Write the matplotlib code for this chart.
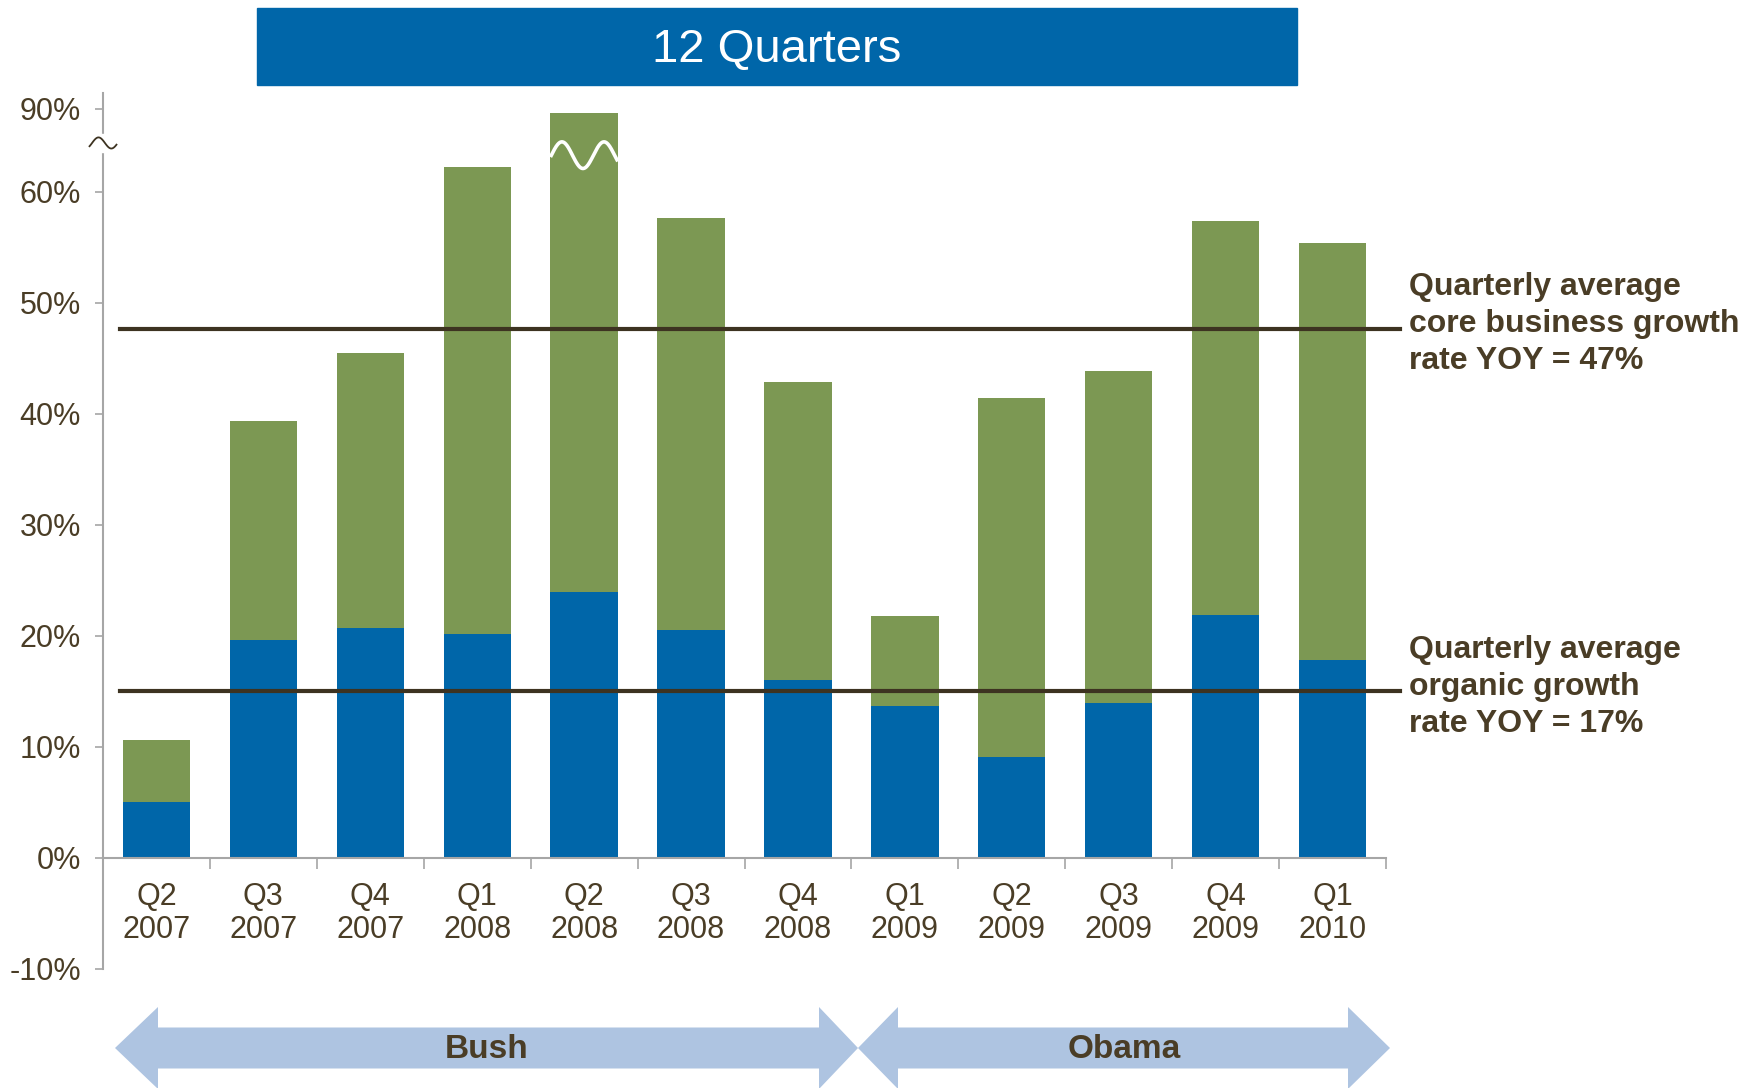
import numpy as np
import matplotlib.pyplot as plt
from matplotlib.patches import Polygon, Rectangle

plt.rcParams['font.family'] = ['Liberation Sans', 'DejaVu Sans']

# data (percent)
quarters = ['Q2\n2007', 'Q3\n2007', 'Q4\n2007', 'Q1\n2008', 'Q2\n2008', 'Q3\n2008',
            'Q4\n2008', 'Q1\n2009', 'Q2\n2009', 'Q3\n2009', 'Q4\n2009', 'Q1\n2010']
organic = [5.0, 19.6, 20.7, 20.2, 24.0, 20.5, 16.0, 13.7, 9.1, 14.0, 21.9, 17.8]
core_total = [10.6, 39.4, 45.5, 62.2, 87.0, 57.6, 42.9, 21.8, 41.4, 43.9, 57.4, 55.4]
core_avg_line = 47.6
organic_avg_line = 15.0
ytick_vals = [-10, 0, 10, 20, 30, 40, 50, 60, 90]
periods = ['Bush', 'Obama']

BLUE = '#0066a9'
GREEN = '#7c9853'
TXT = '#4a3d26'
LINE = '#3d3321'
AXC = '#a6a6a6'
ARROW = '#aec4e1'

# broken axis: above 64% everything is squeezed so that 90% sits at 67.5
BRK = 64.0
def squash(v):
    v = np.asarray(v, dtype=float)
    return np.where(v <= BRK, v, BRK + (v - BRK) * 3.5 / 26.0)

W, H = 1757, 1088
fig = plt.figure(figsize=(W / 100, H / 100), dpi=100)
ax = fig.add_axes([103 / W, 1 - 969 / H, (1386 - 103) / W, (969 - 93) / H])

x = np.arange(len(quarters))
tot = squash(core_total)
org = np.array(organic)
ax.bar(x, org, width=0.63, color=BLUE, zorder=2)
ax.bar(x, tot - org, bottom=org, width=0.63, color=GREEN, zorder=2)

ax.set_xlim(-0.5, 11.5)
ax.set_ylim(-10, 68.9)

# wavy white break on the tallest bar
i = int(np.argmax(core_total))
t = np.linspace(0, 1, 200)
wy = 63.3 + 1.2 * np.sin(2 * np.pi * 1.6 * t - 0.14)
ax.plot(i - 0.315 + 0.63 * t, wy, color='white', lw=2.6, zorder=3, solid_capstyle='butt')

# average lines
for val in [core_avg_line, organic_avg_line]:
    ax.plot([-0.34, 11.63], [val, val], color=LINE, lw=3, zorder=4, clip_on=False)

# spines
for s in ['top', 'right']:
    ax.spines[s].set_visible(False)
ax.spines['bottom'].set_position(('data', 0))
ax.spines['bottom'].set_color(AXC)
ax.spines['left'].set_color(AXC)
ax.spines['bottom'].set_linewidth(1.5)
ax.spines['left'].set_linewidth(1.5)

ax.set_yticks(squash(ytick_vals))
ax.set_yticklabels([f'{v}%' for v in ytick_vals], fontsize=22, color=TXT)
ax.tick_params(axis='y', length=6, width=1.2, color=AXC, pad=10)

ax.set_xticks(np.arange(0.5, 12, 1))
ax.set_xticklabels([])
ax.set_xticks(x, minor=True)
ax.set_xticklabels(quarters, minor=True, fontsize=22, color=TXT, linespacing=1.15)
ax.tick_params(axis='x', which='major', length=8, width=1.2, color=AXC, direction='out')
ax.tick_params(axis='x', which='minor', length=0, pad=17)

# tilde on the y axis
s = np.linspace(-0.1, 0.95, 60)
ax.add_patch(Rectangle((-0.52, 63.6), 0.04, 1.6, color='white', zorder=4, clip_on=False))
ax.plot(-0.5 + (s - 0.425) * 0.24, 64.4 + 0.5 * np.sin(2 * np.pi * s), color=LINE,
        lw=1.3, zorder=5, clip_on=False)

# overlay in pixel coordinates for banner, arrows and notes
ov2 = fig.add_axes([0, 0, 1, 1])
ov2.set_xlim(0, W)
ov2.set_ylim(H, 0)
ov2.axis('off')

ov2.add_patch(Rectangle((257, 8), 1297 - 257, 77, color=BLUE))
ov2.text((257 + 1297) / 2, 50, '12 Quarters', color='white', fontsize=34,
         ha='center', va='center')

notes = ['Quarterly average\ncore business growth\nrate YOY = 47%',
         'Quarterly average\norganic growth\nrate YOY = 17%']
for note, yc in zip(notes, [324, 687]):
    ov2.text(1409, yc, note, color=TXT, fontsize=23, fontweight='bold',
             ha='left', va='center', linespacing=1.32)

def double_arrow(x0, b0, b1, x1, yc=1048, hh=41, sh=20.5):
    pts = [(x0, yc), (b0, yc - hh), (b0, yc - sh), (b1, yc - sh), (b1, yc - hh),
           (x1, yc), (b1, yc + hh), (b1, yc + sh), (b0, yc + sh), (b0, yc + hh)]
    ov2.add_patch(Polygon(pts, closed=True, color=ARROW, lw=0))

arrows = [(115, 158, 819, 858), (858, 898, 1348, 1390)]
for (x0, b0, b1, x1), name in zip(arrows, periods):
    double_arrow(x0, b0, b1, x1)
    ov2.text((x0 + x1) / 2, 1049, name, color=TXT, fontsize=24, fontweight='bold',
             ha='center', va='center')

fig.savefig('out.png', dpi=100)
